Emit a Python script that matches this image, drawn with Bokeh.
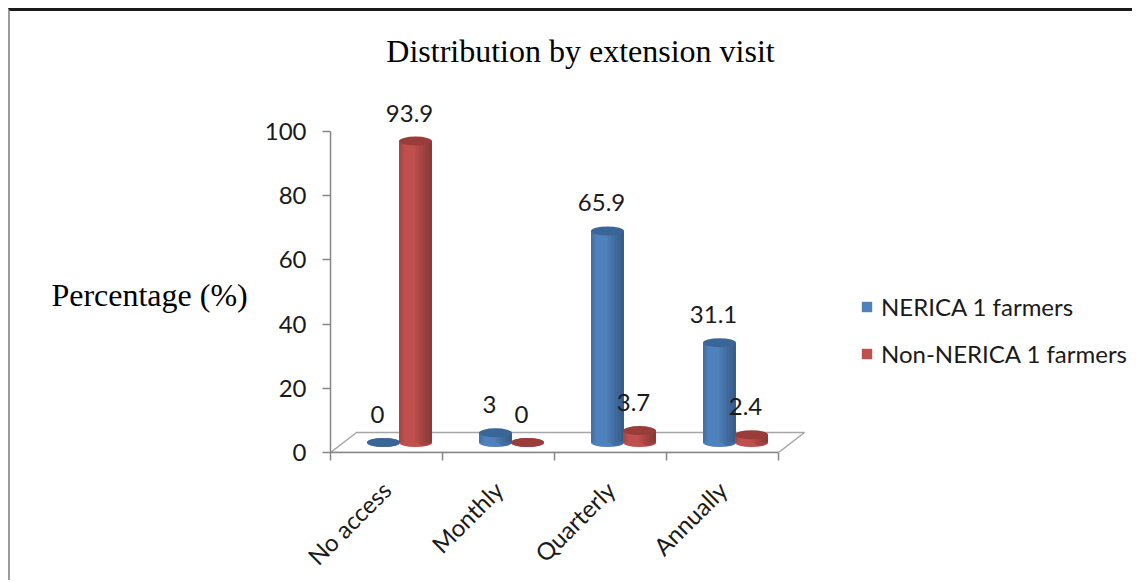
import math
from bokeh.plotting import figure
from bokeh.models import Range1d, FixedTicker, Legend, LegendItem, Label
from bokeh.embed import file_html
from bokeh.resources import INLINE
from bokeh.core.properties import value

# ---------------- data ----------------
categories = ["No access", "Monthly", "Quarterly", "Annually"]
nerica = [0, 3, 65.9, 31.1]
non_nerica = [93.9, 0, 3.7, 2.4]
series_names = ["NERICA 1 farmers", "Non-NERICA 1 farmers"]
y_ticks = [0, 20, 40, 60, 80, 100]
title_text = "Distribution by extension visit"
y_label = "Percentage (%)"

# ---------------- layout ----------------
M = 8                  # page offset
BL, BT = 2, 3
W, H = 1124, 572
PX_X = 112.0           # px per category
PX_Y = 3.21            # px per percentage point
frame_left = 330 - M - BL
frame_top = 0
frame_bottom = 452 - M - BT
x_end = (W - frame_left) / PX_X
y_end = (frame_bottom - frame_top) / PX_Y

DX = 13 / PX_X          # half depth (x)
DY = 10 / PX_Y          # half depth (y)
HW = 16 / PX_X          # half spacing between series
BW = 33 / PX_X          # cylinder width

SANS = "Lato"
SERIF = "Liberation Serif"
BLUE, BLUE_D = "#4F81BD", "#3A6597"
RED, RED_D = "#C0504D", "#993C3A"
FS = "24px"

p = figure(width=W, height=H, output_backend="svg", toolbar_location=None,
           x_range=Range1d(0, x_end), y_range=Range1d(0, y_end),
           min_border_left=frame_left, min_border_right=0,
           min_border_top=frame_top, min_border_bottom=H - frame_bottom)
p.styles = {"border-top": "3px solid #1a1a1a", "border-left": "2px solid #9a9a9a",
            "margin-top": "8px", "margin-left": "8px"}
p.outline_line_color = None
p.xgrid.visible = False
p.ygrid.visible = False

# chart title (centred above the plot area)
p.add_layout(Label(x=(580 - 330) / PX_X, y=(452 - 50) / PX_Y, text=title_text,
                   text_align="center", text_baseline="middle",
                   text_font=SERIF, text_font_size="32px", text_color="#000000"))

# floor
n = len(categories)
p.patch(x=[0, n, n + 2 * DX, 2 * DX], y=[0, 0, 2 * DY, 2 * DY],
        fill_color="white", line_color="#A6A6A6", line_width=1.5)

# cylinders
renderers = []
for k, (vals, col, dcol) in enumerate([(nerica, BLUE, BLUE_D), (non_nerica, RED, RED_D)]):
    xs = [i + 0.5 + DX + (HW if k else -HW) for i in range(n)]
    base = [DY] * n
    tops = [DY + v for v in vals]
    p.ellipse(x=xs, y=base, width=BW, height=9, height_units="screen",
              fill_color=col, line_color=None)
    p.ellipse(x=[x + BW * 0.3 for x in xs], y=base, width=BW * 0.4, height=7, height_units="screen",
              fill_color="black", fill_alpha=0.15, line_color=None)
    body = p.vbar(x=xs, bottom=base, top=tops, width=BW, fill_color=col, line_color=None)
    renderers.append(body)
    # smooth shading: darker towards the right edge, slightly darker at the left edge
    for j in range(5):
        w = BW * 0.5 * (1 - j / 5)
        p.vbar(x=[x + BW / 2 - w / 2 for x in xs], bottom=base, top=tops, width=w,
               fill_color="black", fill_alpha=0.06, line_color=None)
    for j in range(2):
        w = BW * 0.14 * (1 - j / 2)
        p.vbar(x=[x - BW / 2 + w / 2 for x in xs], bottom=base, top=tops, width=w,
               fill_color="black", fill_alpha=0.06, line_color=None)
    p.ellipse(x=xs, y=tops, width=BW, height=9, height_units="screen",
              fill_color=dcol, line_color=None)
    p.text(x=xs, y=tops, text=[f"{v:g}" for v in vals], x_offset=-6, y_offset=-28,
           text_align="center", text_baseline="middle", text_font=value(SANS),
           text_font_size=FS, text_color="#1a1a1a")

# y axis
ya = p.yaxis[0]
ya.ticker = FixedTicker(ticks=y_ticks, minor_ticks=[])
ya.bounds = (0, 100)
ya.axis_line_color = "#868686"
ya.axis_line_width = 1.5
ya.major_tick_line_color = "#868686"
ya.major_tick_line_width = 1.5
ya.major_tick_out = 8
ya.major_tick_in = 0
ya.major_label_standoff = 16
ya.major_label_text_font = SANS
ya.major_label_text_font_size = FS
ya.major_label_text_color = "#1a1a1a"
ya.axis_label = "\n\n\n" + y_label
ya.axis_label_orientation = "horizontal"
ya.axis_label_standoff = 14
ya.axis_label_text_font = SERIF
ya.axis_label_text_font_size = "32px"
ya.axis_label_text_line_height = 1.17
ya.axis_label_text_font_style = "normal"
ya.axis_label_text_color = "#000000"

# x axis
xa = p.xaxis[0]
centers = [i + 0.5 for i in range(n)]
xa.ticker = FixedTicker(ticks=centers, minor_ticks=list(range(n + 1)))
xa.major_label_overrides = {c: lab for c, lab in zip(centers, categories)}
xa.bounds = (0, n)
xa.axis_line_color = "#868686"
xa.axis_line_width = 1.5
xa.major_tick_out = 0
xa.major_tick_in = 0
xa.minor_tick_out = 8
xa.minor_tick_in = 0
xa.minor_tick_line_color = "#868686"
xa.minor_tick_line_width = 1.5
xa.major_label_orientation = math.pi / 4
xa.major_label_standoff = 25
xa.major_label_text_font = SANS
xa.major_label_text_font_size = FS
xa.major_label_text_color = "#1a1a1a"

legend = Legend(items=[LegendItem(label=series_names[0], renderers=[renderers[0]]),
                       LegendItem(label=series_names[1], renderers=[renderers[1]])],
                location=(530, 84), glyph_width=13, glyph_height=13, label_height=20,
                spacing=18, padding=0, margin=0, label_standoff=8,
                border_line_color=None, background_fill_alpha=0,
                label_text_font=SANS, label_text_font_size=FS, label_text_color="#1a1a1a")
p.add_layout(legend)

open("out.html", "w").write(file_html(p, INLINE))
